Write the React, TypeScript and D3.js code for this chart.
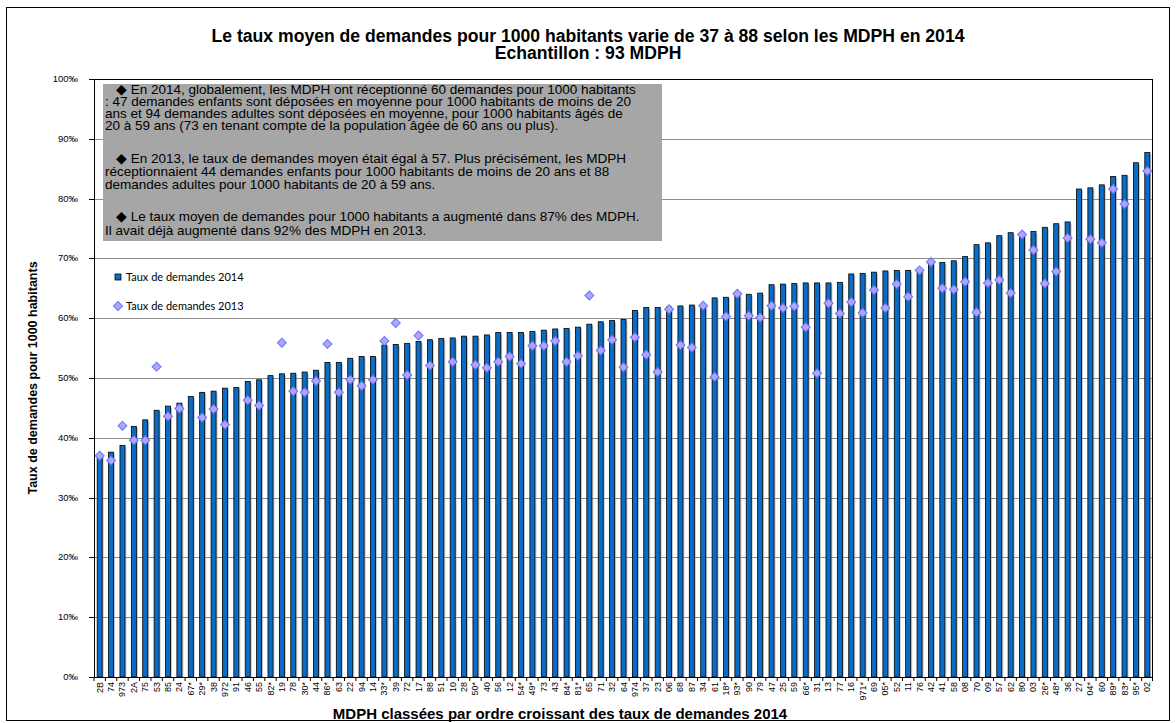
import React from 'react';
import * as d3 from 'd3';

const categories = ["2B","74","973","2A","75","53","85","24","67*","29*","38","972","91","46","55","82*","19","78","30*","44","86*","63","22","94","14","33*","39","72","17","88","51","10","28","50*","40","56","12","54*","49*","73","43","84*","81*","65","71","32","64","974","37","23","06","68","87","34","61","18*","93*","90","79","47","25","59","66*","31","13","77","16","971*","69","05*","52","11","76","42","41","58","08","70","09","57","62","80","03","26*","48*","36","27","04*","60","89*","83*","95*","02"];

const rates2014 = [37.0,37.6,38.7,41.9,43.0,44.6,45.3,45.8,46.9,47.6,47.8,48.3,48.4,49.4,49.7,50.4,50.7,50.8,51.0,51.3,52.6,52.6,53.3,53.6,53.6,55.5,55.6,55.8,56.1,56.4,56.6,56.7,57.0,57.0,57.2,57.6,57.6,57.6,57.8,58.0,58.2,58.3,58.5,59.0,59.4,59.6,59.8,61.3,61.8,61.8,61.9,62.05,62.2,62.2,63.4,63.5,63.9,64.0,64.2,65.6,65.7,65.8,65.9,65.9,65.9,66.0,67.4,67.5,67.7,67.9,68.0,68.0,68.0,69.3,69.3,69.6,70.3,72.3,72.6,73.8,74.3,74.3,74.5,75.2,75.8,76.1,81.6,81.8,82.3,83.7,83.9,86.0,87.7];

const rates2013: (number | null)[] = [37.0,36.2,42.0,39.6,39.6,51.9,43.6,44.9,null,43.4,44.8,42.2,null,46.3,45.4,null,55.9,47.8,47.6,49.5,55.7,47.6,49.7,48.7,49.7,56.2,59.2,50.5,57.1,52.1,null,52.7,null,52.2,51.7,52.7,53.6,52.4,55.4,55.4,56.2,52.7,53.7,63.8,54.6,56.4,51.8,56.8,53.9,51.0,61.5,55.5,55.1,62.1,50.2,60.3,64.1,60.4,60.1,62.1,61.7,62.0,58.5,50.8,62.5,60.8,62.7,60.9,64.7,61.7,65.7,63.6,68.0,69.4,65.0,64.8,66.1,61.0,65.9,66.4,64.2,74.0,71.4,65.8,67.8,73.4,null,73.2,72.6,81.6,79.1,null,84.6];

const yTicks = [0,10,20,30,40,50,60,70,80,90,100];

const titleLines = [
  "Le taux moyen de demandes pour 1000 habitants varie de 37 à 88 selon les MDPH en 2014",
  "Echantillon : 93 MDPH",
];
const yTitle = "Taux de demandes pour 1000 habitants";
const xTitle = "MDPH classées par ordre croissant des taux de demandes 2014";
const legendLabels = ["Taux de demandes 2014", "Taux de demandes 2013"];

const paragraphs = [
  ["◆ En 2014, globalement, les MDPH ont réceptionné 60 demandes pour 1000 habitants",
   ": 47 demandes enfants sont déposées en moyenne pour 1000 habitants de moins de 20",
   "ans et 94 demandes adultes sont déposées en moyenne, pour 1000 habitants âgés de",
   "20 à 59 ans (73 en tenant compte de la population âgée de 60 ans ou plus)."],
  ["◆ En 2013, le taux de demandes moyen était égal à 57. Plus précisément, les MDPH",
   "réceptionnaient 44 demandes enfants pour 1000 habitants de moins de 20 ans et 88",
   "demandes adultes pour 1000 habitants de 20 à 59 ans."],
  ["◆ Le taux moyen de demandes pour 1000 habitants a augmenté dans 87% des MDPH.",
   "Il avait déjà augmenté dans 92% des MDPH en 2013."],
];
const paraBaselines = [[94,106,118,130],[163,176,189],[221,235]];

const FONT = "'Liberation Sans', Arial, sans-serif";

export default function App() {
  const W = 1176, H = 723;
  const left = 94, right = 1153, top = 79, bottom = 677;
  const x = d3.scaleBand<string>().domain(categories).range([left, right]);
  const y = d3.scaleLinear().domain([0, 100]).range([bottom, top]);
  const bw = x.bandwidth() * 0.44;
  const cx = (c: string) => (x(c) as number) + x.bandwidth() / 2;
  const diamond = d3.symbol().type(d3.symbolSquare).size(40)() as string;

  return (
    <div style={{ position: 'absolute', left: 0, top: 0 }}>
      <svg width={W} height={H} style={{ display: 'block', background: '#fff' }}>
        <rect x={6.5} y={7.5} width={1163} height={713} fill="#fff" stroke="#000" strokeWidth={1} />
        {titleLines.map((t, i) => (
          <text key={i} x={588} y={42 + i * 16.5} textAnchor="middle" fontFamily={FONT} fontWeight="bold" fontSize={17.6}>{t}</text>
        ))}
        {yTicks.map(t => (
          <line key={t} x1={left} x2={right} y1={Math.round(y(t)) + 0.5} y2={Math.round(y(t)) + 0.5} stroke="#8c8c8c" strokeWidth={1} />
        ))}
        {yTicks.map(t => (
          <g key={'t' + t}>
            <line x1={89} x2={left} y1={Math.round(y(t)) + 0.5} y2={Math.round(y(t)) + 0.5} stroke="#000" />
            <text x={78} y={y(t) + 3} textAnchor="end" fontFamily={FONT} fontSize={9.5}>{t + '‰'}</text>
          </g>
        ))}
        {categories.map((c, i) => (
          <g key={c}>
            <rect x={cx(c) - bw / 2 + 1.5} y={y(rates2014[i]) + 1.5} width={bw} height={bottom - y(rates2014[i]) - 1.5} fill="#a0a0a0" opacity={0.6} />
            <rect x={cx(c) - bw / 2} y={y(rates2014[i])} width={bw} height={bottom - y(rates2014[i])} fill="#0a6cc6" stroke="#000" strokeWidth={0.8} />
          </g>
        ))}
        {categories.map((c, i) => rates2013[i] == null ? null : (
          <path key={'d' + c} d={diamond} transform={`translate(${cx(c)},${y(rates2013[i] as number)}) rotate(45)`} fill="#b4a2fb" stroke="#5f78ff" strokeWidth={1} />
        ))}
        <rect x={left + 0.5} y={top + 0.5} width={right - left - 1} height={bottom - top} fill="none" stroke="#000" strokeWidth={1} />
        {categories.map(c => (
          <line key={'xt' + c} x1={(x(c) as number)} x2={(x(c) as number)} y1={bottom} y2={bottom + 4} stroke="#000" />
        ))}
        <line x1={right - 0.5} x2={right - 0.5} y1={bottom} y2={bottom + 4} stroke="#000" />
        {categories.map(c => (
          <text key={'xl' + c} transform={`translate(${cx(c) + 3},${bottom + 5}) rotate(-90)`} textAnchor="end" fontFamily={FONT} fontSize={9}>{c}</text>
        ))}
        <rect x={103} y={84} width={559} height={157} fill="#a6a6a6" />
        {paragraphs.map((p, pi) => p.map((line, li) => (
          <text key={pi + '-' + li} x={li === 0 ? 116 : 105} y={paraBaselines[pi][li]} fontFamily={FONT} fontSize={13.5} fill="#000">{line}</text>
        )))}
        <rect x={115} y={274} width={6} height={6} fill="#0a6cc6" stroke="#000" strokeWidth={0.8} />
        <text x={126} y={281} fontFamily="Lato, sans-serif" fontSize={11}>{legendLabels[0]}</text>
        <path d={diamond} transform="translate(118,306) rotate(45)" fill="#b4a2fb" stroke="#5f78ff" strokeWidth={1} />
        <text x={126} y={310} fontFamily="Lato, sans-serif" fontSize={11}>{legendLabels[1]}</text>
        <text transform={`translate(37,${(top + bottom) / 2}) rotate(-90)`} textAnchor="middle" fontFamily={FONT} fontWeight="bold" fontSize={12.5}>{yTitle}</text>
        <text x={560} y={719} textAnchor="middle" fontFamily={FONT} fontWeight="bold" fontSize={15}>{xTitle}</text>
      </svg>
    </div>
  );
}
